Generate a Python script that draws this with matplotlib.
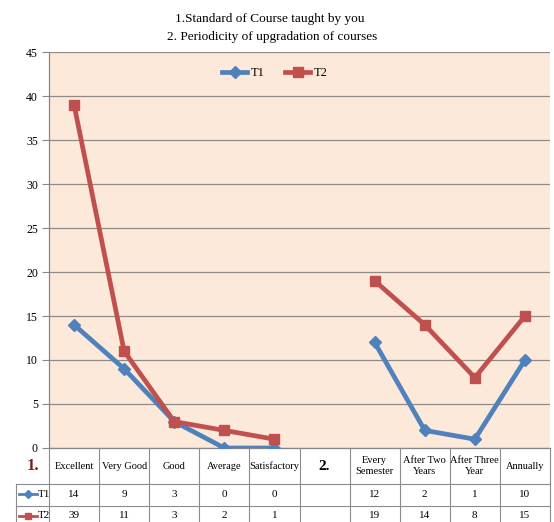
import numpy as np
import matplotlib
matplotlib.use("Agg")
import matplotlib.pyplot as plt
from matplotlib.lines import Line2D
from matplotlib.transforms import blended_transform_factory

plt.rcParams["font.family"] = ["Liberation Serif", "DejaVu Serif"]

categories = ["Excellent", "Very Good", "Good", "Average", "Satisfactory", "2.",
              "Every\nSemester", "After Two\nYears", "After Three\nYear", "Annually"]
t1 = [14, 9, 3, 0, 0, None, 12, 2, 1, 10]
t2 = [39, 11, 3, 2, 1, None, 19, 14, 8, 15]
series_names = ["T1", "T2"]
title_lines = ["1.Standard of Course taught by you", "2. Periodicity of upgradation of courses"]

W, H = 554, 522
fig = plt.figure(figsize=(W / 100, H / 100), dpi=100)
fig.patch.set_facecolor("white")

def fx(px):
    return px / W

def fy(py):
    return 1 - py / H

left, right, top, bottom = 49, 550, 52, 448
ax = fig.add_axes([fx(left), fy(bottom), fx(right - left), (bottom - top) / H])
ax.set_facecolor("#FDE9D9")

x = np.arange(len(categories))
y1 = np.array([np.nan if v is None else v for v in t1], dtype=float)
y2 = np.array([np.nan if v is None else v for v in t2], dtype=float)

blue, red = "#4F81BD", "#C0504D"
ax.plot(x, y1, color=blue, lw=3.4, marker="D", ms=6, label=series_names[0], zorder=3)
ax.plot(x, y2, color=red, lw=3.4, marker="s", ms=6.5, label=series_names[1], zorder=3)

ax.set_xlim(-0.5, len(categories) - 0.5)
ax.set_ylim(0, 45)
ax.set_yticks(np.arange(0, 46, 5))
ax.tick_params(axis="y", length=5, width=0.8, color="#868686", labelsize=8.5, pad=3)
ax.set_xticks([])
ax.grid(axis="y", color="#8F8A86", lw=0.9)
ax.set_axisbelow(True)
for s in ["top", "right"]:
    ax.spines[s].set_visible(False)
for s in ["left", "bottom"]:
    ax.spines[s].set_color("#868686")
    ax.spines[s].set_linewidth(0.9)

leg = ax.legend(loc="center", bbox_to_anchor=((275 - left) / (right - left), (bottom - 73) / (bottom - top)),
                ncol=2, frameon=False, fontsize=9, handlelength=2.0, columnspacing=1.6,
                handletextpad=0.3)

# Title
fig.text(fx(270), fy(19), title_lines[0], ha="center", va="center", fontsize=9.5)
fig.text(fx(272), fy(37), title_lines[1], ha="center", va="center", fontsize=9.5)

# Data table under the axis
tab = fig.add_axes([0, 0, 1, fy(bottom)])
tab.set_xlim(0, W)
tab.set_ylim(H, bottom)
tab.axis("off")
tr = blended_transform_factory(ax.transData, tab.transData)

r0, r1, r2, r3 = 448, 484, 506, 528
line_kw = dict(color="#8C8C8C", lw=0.8)
for i in range(len(categories) + 1):
    tab.add_line(Line2D([i - 0.5, i - 0.5], [r0, r3], transform=tr, **line_kw))
tab.add_line(Line2D([16, 16], [r1, r3], **line_kw))
for yy in (r1, r2, r3):
    tab.add_line(Line2D([16, right], [yy, yy], **line_kw))

for i, cat in enumerate(categories):
    if cat == "2.":
        tab.text(i, (r0 + r1) / 2, cat, transform=tr, ha="center", va="center",
                 fontsize=11, fontweight="bold")
    else:
        tab.text(i, (r0 + r1) / 2, cat, transform=tr, ha="center", va="center",
                 fontsize=7.5, linespacing=1.25)
    for vals, yy in ((t1, r1), (t2, r2)):
        if vals[i] is not None:
            tab.text(i, yy + 10, str(vals[i]), transform=tr, ha="center", va="center",
                     fontsize=8)

tab.text(33, (r0 + r1) / 2, "1.", ha="center", va="center", fontsize=12,
         fontweight="bold", color="#7B1F1F")
for name, col, mk, yy in ((series_names[0], blue, "D", r1), (series_names[1], red, "s", r2)):
    tab.add_line(Line2D([19, 37], [yy + 10, yy + 10], color=col, lw=2))
    tab.plot([28], [yy + 10], marker=mk, color=col, ms=4)
    tab.text(38, yy + 10, name, ha="left", va="center", fontsize=8)

fig.savefig("out.png", dpi=100)
